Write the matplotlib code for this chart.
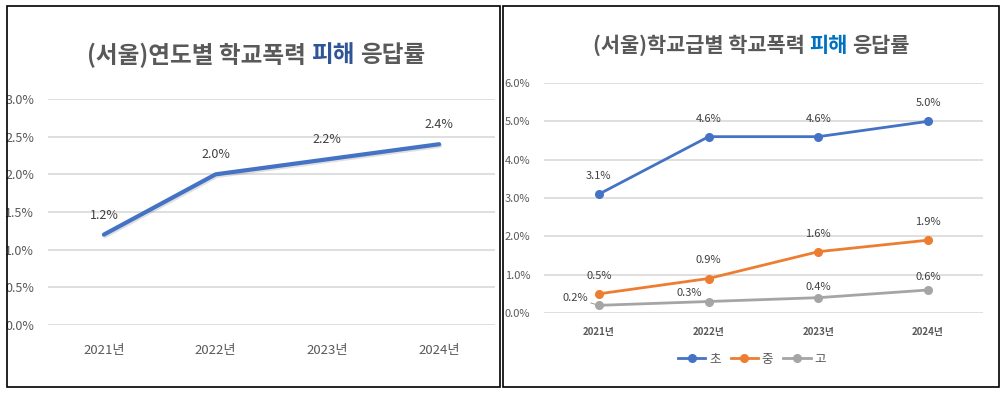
import matplotlib
matplotlib.use("Agg")
import matplotlib.pyplot as plt
import matplotlib.patheffects as pe
from matplotlib.patches import Rectangle

plt.rcParams['font.family'] = ['Noto Sans CJK KR', 'DejaVu Sans']

# data
years = ['2021년', '2022년', '2023년', '2024년']
total_rate = [1.2, 2.0, 2.2, 2.4]
elem_rate = [3.1, 4.6, 4.6, 5.0]
middle_rate = [0.5, 0.9, 1.6, 1.9]
high_rate = [0.2, 0.3, 0.4, 0.6]
series_names = ['초', '중', '고']
left_yticks = [0.0, 0.5, 1.0, 1.5, 2.0, 2.5, 3.0]
right_yticks = [0.0, 1.0, 2.0, 3.0, 4.0, 5.0, 6.0]

W, H = 1008, 395
fig = plt.figure(figsize=(W / 100, H / 100), dpi=100)

TXT = '#595959'
LBL = '#404040'
GRID = '#D9D9D9'
BLUE = '#4472C4'
ORANGE = '#ED7D31'
GRAY = '#A5A5A5'

# panel borders
for x0, x1 in [(7, 500), (503, 999)]:
    fig.patches.append(Rectangle((x0 / W, 1 - 387 / H), (x1 - x0) / W, 381 / H,
                                 transform=fig.transFigure, fill=False,
                                 edgecolor='black', linewidth=1.2))


def px_axes(x0, x1, ytop, ybot):
    return fig.add_axes([x0 / W, 1 - ybot / H, (x1 - x0) / W, (ybot - ytop) / H])


def style_axes(ax, ticks, ymax, ytick_size, xtick_size, xbold, xpad):
    x = range(len(years))
    ax.set_xlim(-0.5, len(years) - 0.5)
    ax.set_ylim(0, ymax)
    ax.set_yticks(ticks)
    ax.set_yticklabels([f'{t:.1f}%' for t in ticks], fontsize=ytick_size, color=TXT)
    ax.set_xticks(list(x))
    ax.set_xticklabels(years, fontsize=xtick_size, color=TXT,
                       fontweight='bold' if xbold else 'normal')
    ax.tick_params(axis='both', length=0)
    ax.tick_params(axis='x', pad=xpad)
    ax.tick_params(axis='y', pad=10)
    for s in ax.spines.values():
        s.set_visible(False)
    ax.grid(axis='y', color=GRID, linewidth=1.2)
    ax.set_axisbelow(True)
    ax.patch.set_alpha(0)


def title(parts, xc, yc, size):
    # parts: list of (text, color); drawn side by side, centered at xc
    r = fig.canvas.get_renderer()
    texts = []
    for s, c in parts:
        t = fig.text(0, 1 - yc / H, s, color=c, fontsize=size, fontweight='bold',
                     ha='left', va='center')
        texts.append(t)
    widths = [t.get_window_extent(r).width for t in texts]
    gap = size * 0.3
    total = sum(widths) + gap * (len(texts) - 1)
    x = xc - total / 2
    for t, w in zip(texts, widths):
        t.set_x(x / W)
        x += w + gap


# left chart
axl = px_axes(48, 495, 99, 325)
style_axes(axl, left_yticks, 3.0, 9, 9.5, False, 14)
axl.plot(range(len(years)), total_rate, color=BLUE, linewidth=3, solid_capstyle='round',
         path_effects=[pe.SimpleLineShadow(offset=(0.8, -1.2), alpha=0.12, shadow_color='black'),
                       pe.Normal()])
for i, v in enumerate(total_rate):
    axl.annotate(f'{v:.1f}%', (i, v), xytext=(0, 14), textcoords='offset points',
                 ha='center', va='center', fontsize=9, color=LBL)

title([('(서울)연도별 학교폭력', TXT), ('피해', '#2F5597'), ('응답률', TXT)], 256, 55, 17)

# right chart
axr = px_axes(544, 983, 83, 313)
style_axes(axr, right_yticks, 6.0, 8, 7, True, 10)
x = range(len(years))
label_offsets = {
    BLUE: [(0, 13)] * 4,
    ORANGE: [(0, 13)] * 4,
    GRAY: [(-17, 5), (-14, 6), (0, 8), (0, 9)],
}
for vals, c, name in [(elem_rate, BLUE, series_names[0]),
                      (middle_rate, ORANGE, series_names[1]),
                      (high_rate, GRAY, series_names[2])]:
    axr.plot(x, vals, color=c, linewidth=2, marker='o', markersize=5.5, label=name)
    for i, v in enumerate(vals):
        off = label_offsets[c][i]
        if c == GRAY and i == 0:
            axr.annotate(f'{v:.1f}%', (i, v), xytext=off, textcoords='offset points',
                         ha='center', va='center', fontsize=8, color=LBL,
                         arrowprops=dict(arrowstyle='-', color='#A0A0A0', lw=0.8,
                                         shrinkA=8, shrinkB=3))
        else:
            axr.annotate(f'{v:.1f}%', (i, v), xytext=off, textcoords='offset points',
                         ha='center', va='center', fontsize=8, color=LBL)

axr.legend(loc='center', bbox_to_anchor=(752 / W, 1 - 359 / H),
           bbox_transform=fig.transFigure, ncol=3, frameon=False, fontsize=9,
           labelcolor=TXT, handlelength=2.2, handletextpad=0.3, columnspacing=0.8)

title([('(서울)학교급별 학교폭력', TXT), ('피해', '#0070C0'), ('응답률', TXT)], 751, 45, 15)

fig.savefig('out.png', dpi=100)
